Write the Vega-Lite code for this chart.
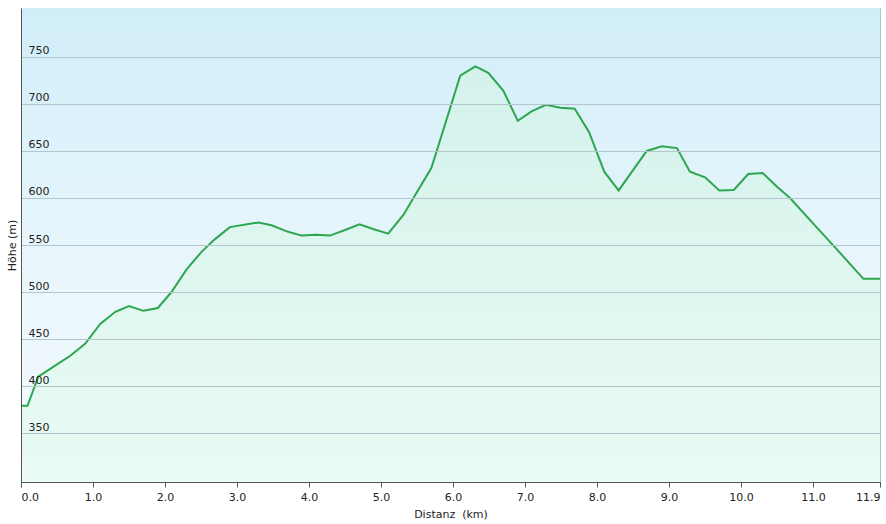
{
  "$schema": "https://vega.github.io/schema/vega-lite/v6.json",
  "width": 859,
  "height": 474,
  "autosize": "none",
  "padding": {"left": 21, "top": 8, "right": 6, "bottom": 42},
  "background": "white",
  "config": {
    "view": {"stroke": "#b9c2c8", "strokeWidth": 1},
    "font": "DejaVu Sans",
    "axis": {"labelFont": "DejaVu Sans", "titleFont": "DejaVu Sans", "labelColor": "#222", "titleColor": "#222", "titleFontWeight": "normal", "labelFontSize": 11, "titleFontSize": 11}
  },
  "data": {
    "values": [
      {"km": 0.0, "hoehe": 379}, {"km": 0.09, "hoehe": 379}, {"km": 0.24, "hoehe": 410},
      {"km": 0.5, "hoehe": 423}, {"km": 0.68, "hoehe": 432}, {"km": 0.89, "hoehe": 445},
      {"km": 1.1, "hoehe": 466}, {"km": 1.31, "hoehe": 479}, {"km": 1.5, "hoehe": 485},
      {"km": 1.7, "hoehe": 480}, {"km": 1.9, "hoehe": 483}, {"km": 2.09, "hoehe": 500},
      {"km": 2.3, "hoehe": 524}, {"km": 2.51, "hoehe": 543}, {"km": 2.69, "hoehe": 556},
      {"km": 2.9, "hoehe": 569}, {"km": 3.3, "hoehe": 574}, {"km": 3.48, "hoehe": 571},
      {"km": 3.71, "hoehe": 564}, {"km": 3.9, "hoehe": 560}, {"km": 4.11, "hoehe": 561},
      {"km": 4.29, "hoehe": 560}, {"km": 4.5, "hoehe": 566}, {"km": 4.7, "hoehe": 572},
      {"km": 4.89, "hoehe": 567}, {"km": 5.1, "hoehe": 562}, {"km": 5.31, "hoehe": 582},
      {"km": 5.7, "hoehe": 632}, {"km": 5.88, "hoehe": 676}, {"km": 6.1, "hoehe": 730},
      {"km": 6.31, "hoehe": 740}, {"km": 6.49, "hoehe": 733}, {"km": 6.7, "hoehe": 714},
      {"km": 6.9, "hoehe": 682}, {"km": 7.09, "hoehe": 692}, {"km": 7.29, "hoehe": 699},
      {"km": 7.49, "hoehe": 696}, {"km": 7.69, "hoehe": 695}, {"km": 7.89, "hoehe": 670},
      {"km": 8.1, "hoehe": 628}, {"km": 8.3, "hoehe": 608}, {"km": 8.69, "hoehe": 650},
      {"km": 8.9, "hoehe": 655}, {"km": 9.11, "hoehe": 653}, {"km": 9.29, "hoehe": 628},
      {"km": 9.5, "hoehe": 622}, {"km": 9.7, "hoehe": 608}, {"km": 9.9, "hoehe": 608.5},
      {"km": 10.1, "hoehe": 625.5}, {"km": 10.3, "hoehe": 626.6}, {"km": 10.5, "hoehe": 612},
      {"km": 10.68, "hoehe": 600}, {"km": 11.0, "hoehe": 573}, {"km": 11.3, "hoehe": 548},
      {"km": 11.7, "hoehe": 514}, {"km": 11.93, "hoehe": 514}
    ]
  },
  "layer": [
    {
      "mark": {"type": "rect", "fill": {"gradient": "linear", "x1": 0, "y1": 0, "x2": 0, "y2": 1, "stops": [{"offset": 0, "color": "#d1eef9"}, {"offset": 0.6, "color": "#ebf7fc"}, {"offset": 1, "color": "#f4fbfd"}]}},
      "encoding": {
        "x": {"datum": 0, "type": "quantitative"},
        "x2": {"datum": 11.93},
        "y": {"datum": 298, "type": "quantitative"},
        "y2": {"datum": 802}
      }
    },
    {
      "mark": {"type": "area", "fill": {"gradient": "linear", "x1": 0, "y1": 0, "x2": 0, "y2": 1, "stops": [{"offset": 0, "color": "#d4f2ec"}, {"offset": 1, "color": "#e9fbf3"}]}},
      "encoding": {
        "x": {"field": "km", "type": "quantitative"},
        "y": {"field": "hoehe", "type": "quantitative"},
        "y2": {"datum": 298}
      }
    },
    {
      "mark": {"type": "line", "color": "#2ea64f", "strokeWidth": 2},
      "encoding": {
        "x": {
          "field": "km", "type": "quantitative",
          "scale": {"domain": [0, 11.93], "nice": false, "zero": false},
          "axis": {
            "title": "Distanz\u00a0 (km)",
            "values": [0, 1, 2, 3, 4, 5, 6, 7, 8, 9, 10, 11, 11.93],
            "format": ".1f",
            "labelFlush": true,
            "labelOverlap": false,
            "grid": false,
            "domainColor": "#555",
            "tickColor": "#555",
            "tickSize": 5,
            "labelPadding": 4,
            "titlePadding": 6
          }
        },
        "y": {
          "field": "hoehe", "type": "quantitative",
          "scale": {"domain": [298, 802], "nice": false, "zero": false},
          "axis": {
            "title": "Höhe (m)",
            "values": [350, 400, 450, 500, 550, 600, 650, 700, 750],
            "zindex": 1,
            "grid": true,
            "gridColor": "#b3c6ce",
            "gridWidth": 1,
            "ticks": false,
            "labelAlign": "left",
            "labelBaseline": "alphabetic",
            "labelPadding": -7,
            "labelOffset": -3,
            "domainColor": "#555",
            "titlePadding": 4
          }
        }
      }
    }
  ]
}
